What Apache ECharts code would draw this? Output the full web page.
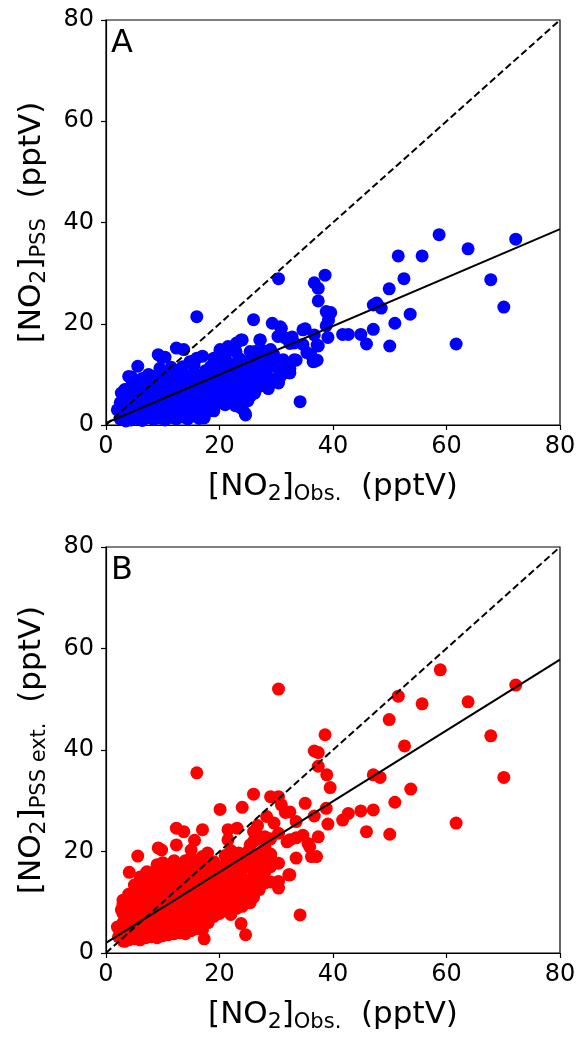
<!DOCTYPE html>
<html>
<head>
<meta charset="utf-8">
<script src="https://cdn.jsdelivr.net/npm/echarts@6/dist/echarts.min.js"></script>
<style>
html,body{margin:0;padding:0;background:#fff;}
#chart{width:578px;height:1037px;}
</style>
</head>
<body>
<div id="chart"></div>
<script>
// ---------- data ----------
var axisTicks = [0, 20, 40, 60, 80];

// Panel A: scattered points outside the dense core [obs, pss]
var sparseA = [
  [58.7,37.6],[72.2,36.7],[63.8,34.8],[51.5,33.4],[55.7,33.4],[52.5,28.9],[67.8,28.7],[30.4,28.9],
  [38.6,29.6],[36.7,28.1],[37.4,27.0],[49.9,26.9],[37.4,24.5],[47.1,23.7],[47.7,24.1],[48.5,23.1],
  [70.1,23.3],[38.8,22.4],[39.6,22.2],[53.6,21.9],[16.0,21.4],[26.0,20.8],[39.2,20.7],[29.3,20.1],
  [50.9,20.1],[38.8,19.6],[30.9,19.1],[35.1,19.0],[47.1,18.9],[41.7,17.9],[42.7,17.9],[44.9,17.9],
  [36.7,17.8],[39.1,17.3],[30.3,17.5],[27.2,16.8],[45.9,16.0],[50.0,15.6],[61.7,16.0],[37.4,15.6],
  [32.8,17.4],[32.4,16.1],[34.7,15.9],[31.6,17.2],[33.2,16.2],[33.5,12.8],[35.4,14.3],[36.5,12.5],
  [36.1,13.9],[36.8,12.6],[32.4,11.1],[32.3,10.3],[30.4,9.6],[30.4,8.3],[31.2,12.9],[33.2,12.9],
  [29.3,11.6],[29.0,14.9],[34.2,4.6],[24.6,2.0],[23.8,3.4],[17.3,1.4],[2.0,3.0],[2.7,6.3],[3.3,7.0],
  [4.0,9.6],[4.5,9.5],[5.6,11.6],[9.2,13.9],[9.8,13.4],[10.4,13.4],[12.4,15.2],[13.7,14.9],
  [15.3,12.6],[14.8,12.5],[16.0,13.2],[17.0,13.6],[20.1,14.9],[20.1,14.4],[21.5,15.5],[23.0,16.2],
  [24.0,16.8],[23.4,13.2],[23.8,16.8],[25.4,14.5],[26.3,14.5],[27.1,16.8],[26.0,14.3],[28.0,9.6],
  [26.7,10.9],[25.4,10.3],[30.7,9.5],[32.4,10.3],[31.0,11.5],[37.2,12.8],[37.2,15.8],[24.0,3.3],
  [24.5,2.3],[17.1,1.6],[34.7,18.8],[30.7,19.4],[19.0,2.8],[21.0,4.0],[22.8,3.8],[25.0,4.8],
  [26.2,6.3],[27.0,7.6],[28.6,7.2],[21.0,13.6],[22.9,14.5],[19.0,13.2],[25.0,12.8],[27.8,14.6]
];
// Panel A dense core, by column: [obs, [pss values]]
var coreA = [
  [2.5,[1.2,2.8,4.4]],[3.5,[0.8,2.4,4.0,5.6]],[4.4,[1.0,2.7,4.3,6.0,7.6]],[5.5,[1.3,3.0,4.8,6.4,8.1]],
  [6.4,[0.9,2.6,4.2,5.9,7.5,9.2]],[7.5,[1.5,3.2,4.9,6.6,8.3,10.0]],[8.4,[1.1,2.8,4.5,6.2,7.9,9.6]],
  [9.5,[1.4,3.1,4.8,6.5,8.2,9.9,11.2]],[10.4,[1.0,2.7,4.4,6.1,7.8,9.5]],[11.5,[1.5,3.2,4.9,6.6,8.3,10.0,11.4]],
  [12.4,[1.2,2.9,4.6,6.3,8.0,9.7]],[13.5,[1.6,3.3,5.0,6.7,8.4,10.1,11.5]],[14.4,[1.2,2.9,4.6,6.3,8.0,9.7]],
  [15.5,[1.8,3.5,5.2,6.9,8.6,10.3,11.8]],[16.4,[1.3,3.0,4.7,6.4,8.1,9.8]],[17.5,[2.2,3.9,5.6,7.3,9.0,10.7]],
  [18.4,[3.0,4.7,6.4,8.1,9.8,11.5]],[19.5,[4.2,5.9,7.6,9.3,11.0,12.0]],[20.4,[4.8,6.5,8.2,9.9,11.6]],
  [21.5,[5.5,7.2,8.9,10.6,12.3]],[22.4,[4.8,6.5,8.2,9.9,11.6]],[23.5,[5.4,7.1,8.8,10.5,12.0]],
  [24.4,[6.0,7.7,9.4,11.1]],[25.5,[5.8,8.3,10.0,12.2]],[26.4,[7.5,9.7,11.5,14.2]],
  [27.5,[8.8,10.4,12.6]],[28.4,[9.6,11.2,13.5]],[29.5,[8.5,12.0,14.0]]
];

// Panel B: scattered points outside the dense core [obs, pss ext.]
var sparseB = [
  [58.9,55.8],[72.2,52.8],[51.5,50.6],[55.7,49.1],[63.8,49.5],[49.9,46.0],[38.6,43.0],[67.8,42.8],
  [36.7,39.8],[37.4,39.5],[52.6,40.8],[37.4,36.8],[38.9,35.1],[47.1,35.1],[48.3,34.6],[70.1,34.6],
  [39.5,32.6],[53.7,32.3],[35.1,29.5],[50.9,29.7],[38.8,28.5],[32.4,27.8],[36.7,27.0],[47.1,28.2],
  [42.7,27.5],[41.7,26.2],[44.9,28.0],[33.5,25.9],[39.1,25.4],[45.9,23.9],[50.0,23.4],[61.7,25.6],
  [37.4,22.9],[34.7,23.2],[33.5,22.7],[32.4,22.3],[35.6,21.6],[35.9,20.9],[36.2,19.0],[37.1,19.0],
  [33.5,18.7],[32.4,15.4],[30.4,52.0],[16.0,35.5],[26.0,31.3],[24.0,28.7],[20.1,28.3],[29.0,30.8],
  [30.4,30.8],[30.9,29.2],[31.6,27.7],[28.3,26.9],[29.6,25.6],[26.7,25.1],[26.0,23.9],[23.1,24.6],
  [28.0,22.9],[30.4,23.6],[31.9,21.9],[29.0,19.0],[30.4,17.7],[27.3,17.7],[27.7,16.4],[26.0,15.4],
  [30.4,14.1],[30.4,12.8],[32.2,15.4],[25.4,9.9],[24.1,10.5],[23.8,5.8],[24.6,3.6],[34.2,7.5],
  [17.3,2.8],[13.7,23.9],[12.4,24.6],[17.0,24.3],[2.0,5.1],[2.7,8.5],[3.0,10.4],[4.1,15.9],
  [5.6,19.1],[7.2,16.0],[9.2,20.7],[9.8,20.3],[12.4,21.3],[15.6,22.2],[15.0,20.3],[17.9,19.7],
  [21.5,24.3],[21.5,22.3],[23.4,19.7],[25.4,21.3],[23.8,15.1],[22.8,12.2],[3.3,2.3]
];
// Panel B dense core, by column: [obs, [pss ext. values]]
var coreB = [
  [2.2,[3.2,5.0]],[3.0,[2.4,4.2,6.0,7.8,9.6]],[4.0,[2.6,4.4,6.2,8.0,9.8,11.6]],
  [5.0,[2.8,4.6,6.4,8.2,10.0,11.8,13.4]],[6.0,[2.6,4.4,6.2,8.0,9.8,11.6,13.4,15.0]],
  [7.0,[3.0,4.8,6.6,8.4,10.2,12.0,13.8,15.6]],[8.0,[3.2,5.0,6.8,8.6,10.4,12.2,14.0,15.8]],
  [9.0,[3.0,4.8,6.6,8.4,10.2,12.0,13.8,15.6,17.4]],[10.0,[3.4,5.2,7.0,8.8,10.6,12.4,14.2,16.0,17.8]],
  [11.0,[3.6,5.4,7.2,9.0,10.8,12.6,14.4,16.2]],[12.0,[3.8,5.6,7.4,9.2,11.0,12.8,14.6,16.4,18.2]],
  [13.0,[4.0,5.8,7.6,9.4,11.2,13.0,14.8,16.6]],[14.0,[3.8,5.6,7.4,9.2,11.0,12.8,14.6,16.4,18.2]],
  [15.0,[4.4,6.2,8.0,9.8,11.6,13.4,15.2,17.0,18.8]],[16.0,[4.8,6.6,8.4,10.2,12.0,13.8,15.6,17.4]],
  [17.0,[4.6,6.4,8.2,10.0,11.8,13.6,15.4,17.2,19.0]],[18.0,[6.0,7.8,9.6,11.4,13.2,15.0,16.8]],
  [19.0,[7.2,9.0,10.8,12.6,14.4,16.2,18.0]],[20.0,[7.8,9.6,11.4,13.2,15.0,16.8]],
  [21.0,[8.4,10.2,12.0,13.8,15.6,17.4,19.2]],[22.0,[7.6,9.4,11.2,13.0,14.8,16.6,18.4,20.2]],
  [23.0,[8.8,10.6,12.4,14.2,16.0,17.8]],[24.0,[9.2,11.0,12.8,14.6,16.4,18.2]],
  [25.0,[10.4,12.2,14.0,17.5,20.0]],[26.0,[11.0,13.5,16.5,18.5,22.0]],
  [27.0,[12.5,14.5,17.0,19.5,23.0]],[28.0,[13.8,16.0,18.5,21.0]],[29.0,[14.0,17.0,19.5,22.5]]
];

// fitted lines and 1:1 line
var fitA = [[0, 0.4], [80, 38.7]];
var fitB = [[0, 2.0], [80, 57.8]];
var oneToOne = [[0, 0], [80, 80]];

// ---------- build ----------
function expand(cols){
  var out = [];
  cols.forEach(function(c){ c[1].forEach(function(v){ out.push([c[0], v]); }); });
  return out;
}
var pointsA = expand(coreA).concat(sparseA);
var pointsB = expand(coreB).concat(sparseB);

var FONT = 'DejaVu Sans';
var rich = {
  b: {fontSize: 31, lineHeight: 36, fontFamily: FONT, color: '#000'},
  s: {fontSize: 22, lineHeight: 29, verticalAlign: 'bottom', fontFamily: FONT, color: '#000'},
  o: {fontSize: 21, lineHeight: 21, verticalAlign: 'bottom', fontFamily: FONT, color: '#000'}
};

function xAxisCfg(idx){
  return {
    type: 'value', gridIndex: idx, min: axisTicks[0], max: axisTicks[axisTicks.length-1], interval: 20,
    axisLine: {show: true, onZero: false, lineStyle: {color: '#000', width: 1.2}},
    axisTick: {show: true, length: 5, lineStyle: {color: '#000', width: 1.2}},
    splitLine: {show: false},
    axisLabel: {fontSize: 24, color: '#000', fontFamily: FONT, margin: 10, showMinLabel: true, showMaxLabel: true},
    name: '{b|[NO}{s|2}{b|]}{o|Obs.}{b|  (pptV)}',
    nameLocation: 'middle', nameGap: 44,
    nameTextStyle: {rich: rich}
  };
}
function yAxisCfg(idx, sub){
  return {
    type: 'value', gridIndex: idx, min: axisTicks[0], max: axisTicks[axisTicks.length-1], interval: 20,
    axisLine: {show: true, onZero: false, lineStyle: {color: '#000', width: 1.2}},
    axisTick: {show: true, length: 5, lineStyle: {color: '#000', width: 1.2}},
    splitLine: {show: false},
    axisLabel: {fontSize: 24, color: '#000', fontFamily: FONT, margin: 12, showMinLabel: true, showMaxLabel: true},
    name: '{b|[NO}{s|2}{b|]}{o|' + sub + '}{b|  (pptV)}',
    nameLocation: 'middle', nameGap: 56, nameRotate: 90,
    nameTextStyle: {rich: rich}
  };
}

var chart = echarts.init(document.getElementById('chart'), null, {renderer: 'canvas'});
chart.setOption({
  animation: false,
  backgroundColor: '#fff',
  title: [
    {text: 'A', left: 111, top: 28, padding: 0, textStyle: {fontSize: 32, fontWeight: 'normal', color: '#000', fontFamily: FONT}},
    {text: 'B', left: 111, top: 555, padding: 0, textStyle: {fontSize: 32, fontWeight: 'normal', color: '#000', fontFamily: FONT}}
  ],
  grid: [
    {left: 106, top: 20, width: 454, height: 405, show: true, borderColor: '#000', borderWidth: 1.2, backgroundColor: 'transparent', outerBoundsMode: 'none', containLabel: false},
    {left: 106, top: 547, width: 454, height: 406, show: true, borderColor: '#000', borderWidth: 1.2, backgroundColor: 'transparent', outerBoundsMode: 'none', containLabel: false}
  ],
  xAxis: [xAxisCfg(0), xAxisCfg(1)],
  yAxis: [yAxisCfg(0, 'PSS'), yAxisCfg(1, 'PSS ext.')],
  series: [
    {type: 'scatter', xAxisIndex: 0, yAxisIndex: 0, data: pointsA, symbolSize: 13,
     itemStyle: {color: '#0000ff', opacity: 1}, z: 2, silent: true},
    {type: 'line', xAxisIndex: 0, yAxisIndex: 0, data: oneToOne, symbol: 'none', z: 3, silent: true,
     lineStyle: {color: '#000', width: 2, type: [7, 3.5]}},
    {type: 'line', xAxisIndex: 0, yAxisIndex: 0, data: fitA, symbol: 'none', z: 3, silent: true,
     lineStyle: {color: '#000', width: 2}},
    {type: 'scatter', xAxisIndex: 1, yAxisIndex: 1, data: pointsB, symbolSize: 13,
     itemStyle: {color: '#ff0000', opacity: 1}, z: 2, silent: true},
    {type: 'line', xAxisIndex: 1, yAxisIndex: 1, data: oneToOne, symbol: 'none', z: 3, silent: true,
     lineStyle: {color: '#000', width: 2, type: [7, 3.5]}},
    {type: 'line', xAxisIndex: 1, yAxisIndex: 1, data: fitB, symbol: 'none', z: 3, silent: true,
     lineStyle: {color: '#000', width: 2}}
  ]
});
</script>
</body>
</html>
